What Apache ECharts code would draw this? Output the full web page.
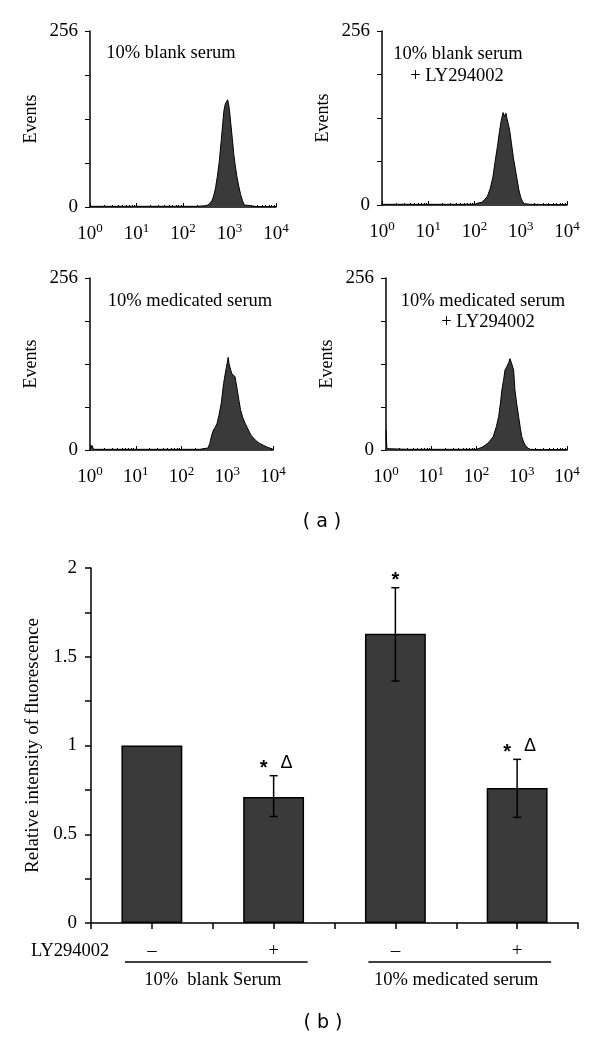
<!DOCTYPE html>
<html><head><meta charset="utf-8">
<script src="https://cdn.jsdelivr.net/npm/echarts@6/dist/echarts.min.js"></script>
<style>html,body{margin:0;padding:0;background:#fff}#c{width:600px;height:1039px}</style>
</head><body><div id="c"></div>
<script>
// ---------- data ----------
const histXExponents = ['0', '1', '2', '3', '4'];
const histYLabelValues = [0, 256];
const panelTitles = [
  ['10% blank serum'],
  ['10% blank serum', '+ LY294002'],
  ['10% medicated serum'],
  ['10% medicated serum', '+ LY294002']
];
// [log10(fluorescence), events]
const histBlank = [[0,1],[0.5,1],[1,1],[1.5,1],[2,1],[2.3,1],[2.5,2],[2.56,4],[2.62,9],[2.66,16],[2.7,28],[2.74,45],[2.78,66],[2.82,95],[2.85,118],[2.88,140],[2.91,150],[2.94,148],[2.96,156],[2.98,150],[3,140],[3.03,120],[3.06,100],[3.09,78],[3.12,62],[3.16,44],[3.2,30],[3.24,18],[3.28,9],[3.32,3],[3.36,1],[3.6,0.5],[4,0.5]];
const histBlankLY = [[0,1],[0.5,1],[1,1],[1.5,1],[2,1],[2.08,3],[2.12,5],[2.16,4],[2.22,8],[2.28,13],[2.34,24],[2.4,42],[2.45,66],[2.5,88],[2.54,108],[2.58,125],[2.62,136],[2.65,130],[2.68,135],[2.7,128],[2.73,130],[2.76,110],[2.8,90],[2.84,70],[2.88,54],[2.92,38],[2.96,22],[3,11],[3.04,5],[3.08,2],[3.2,1],[4,0.5]];
const histMed = [[0,1],[0.04,7],[0.08,1],[0.5,1],[1,1],[1.5,1],[2,1],[2.4,1],[2.58,3],[2.62,10],[2.66,22],[2.7,30],[2.74,34],[2.78,40],[2.82,52],[2.87,70],[2.92,99],[2.97,119],[3,130],[3.02,138],[3.04,128],[3.06,129],[3.08,118],[3.1,114],[3.14,112],[3.17,109],[3.22,89],[3.26,72],[3.29,60],[3.34,48],[3.39,40],[3.46,30],[3.52,22],[3.61,15],[3.7,10],[3.79,7],[3.88,4],[3.97,2],[4,1]];
const histMedLY = [[0,30],[0.02,2],[0.5,1],[1,1],[1.5,1],[2,1],[2.04,2],[2.12,4],[2.19,7],[2.28,12],[2.37,20],[2.44,35],[2.49,50],[2.53,70],[2.56,89],[2.6,105],[2.63,119],[2.67,124],[2.71,130],[2.74,136],[2.78,128],[2.82,119],[2.85,89],[2.89,68],[2.93,50],[2.97,32],[3,20],[3.04,12],[3.08,7],[3.13,3],[3.19,1],[3.5,0.5],[4,0.5]];

const barCategories = ['–', '+', '–', '+'];
const groupLabels = ['10%  blank Serum', '10% medicated serum'];
const treatmentLabel = 'LY294002';
const barValues = [1.0, 0.71, 1.63, 0.76];
const errLow = [null, 0.60, 1.363, 0.595];
const errHigh = [null, 0.83, 1.889, 0.922];
const sigStar = ['', '*', '*', '*'];
const sigDelta = ['', 'Δ', '', 'Δ'];
const barYTickLabels = ['0', '0.5', '1', '1.5', '2'];
const yNameHist = 'Events';
const yNameBar = 'Relative intensity of fluorescence';
const panelCaptions = ['( a )', '( b )'];

// ---------- layout ----------
const SERIF = '"Liberation Serif", "Times New Roman", serif';
const panelBoxes = [
  {left: 90, top: 31, width: 186, height: 176},
  {left: 382, top: 31, width: 185, height: 174},
  {left: 90, top: 278, width: 183, height: 172},
  {left: 386, top: 278, width: 181, height: 172}
];
const titlePos = [
  [[171, 53]],
  [[458, 54], [457, 76]],
  [[190, 301]],
  [[483, 301], [488, 322]]
];
const barBox = {left: 91, top: 568, width: 487, height: 355};
const histData = [histBlank, histBlankLY, histMed, histMedLY];

const minorLogTicks = [];
for (let d = 0; d < 4; d++) for (let k = 2; k <= 9; k++) minorLogTicks.push(d + Math.log10(k));

const grids = panelBoxes.map(b => Object.assign({containLabel: false}, b));
grids.push(Object.assign({containLabel: false}, barBox));

const xAxes = [], yAxes = [], series = [], graphics = [];
panelBoxes.forEach((b, i) => {
  xAxes.push({
    type: 'value', gridIndex: i, min: 0, max: 4, interval: 1,
    axisLine: {lineStyle: {color: '#000', width: 1.5}},
    axisTick: {inside: true, length: 4, lineStyle: {color: '#000'}},
    splitLine: {show: false},
    axisLabel: {
      margin: 15,
      formatter: v => '{b|10}{s|' + histXExponents[Math.round(v)] + '}',
      rich: {
        b: {fontFamily: SERIF, fontSize: 19, color: '#000'},
        s: {fontFamily: SERIF, fontSize: 13, color: '#000', padding: [0, 0, 12, 0]}
      }
    }
  });
  xAxes.push({
    type: 'value', gridIndex: i, min: 0, max: 4, position: 'bottom',
    axisLine: {show: false}, splitLine: {show: false}, axisLabel: {show: false},
    axisTick: {show: true, inside: true, length: 2, customValues: minorLogTicks, lineStyle: {color: '#000'}}
  });
  yAxes.push({
    type: 'value', gridIndex: i, min: 0, max: 256, interval: 64,
    name: yNameHist, nameLocation: 'middle', nameGap: 50,
    nameTextStyle: {fontFamily: SERIF, fontSize: 18, color: '#000'},
    axisLine: {show: true, lineStyle: {color: '#000', width: 1.5}},
    axisTick: {show: true, length: 5, lineStyle: {color: '#000'}},
    splitLine: {show: false},
    axisLabel: {
      margin: 12, fontFamily: SERIF, fontSize: 19, color: '#000',
      formatter: v => histYLabelValues.indexOf(v) >= 0 ? String(v) : ''
    }
  });
  series.push({
    type: 'line', xAxisIndex: 2 * i, yAxisIndex: i, data: histData[i],
    showSymbol: false, symbol: 'none', smooth: false,
    lineStyle: {color: '#000', width: 1},
    areaStyle: {color: '#3a3a3a', opacity: 1},
    silent: true, animation: false
  });
  panelTitles[i].forEach((t, j) => {
    graphics.push({
      id: 'pt' + i + '_' + j, type: 'text', x: titlePos[i][j][0], y: titlePos[i][j][1],
      style: {text: t, fill: '#000', font: '18.5px ' + SERIF, align: 'center', textAlign: 'center', verticalAlign: 'middle', textVerticalAlign: 'middle'}
    });
  });
});

// bar chart axes
const BG = 4;
xAxes.push({
  type: 'category', gridIndex: BG, data: barCategories, position: 'bottom',
  axisLine: {lineStyle: {color: '#000', width: 1.5}},
  axisTick: {show: true, interval: 0, length: 6, alignWithLabel: false, lineStyle: {color: '#000', width: 1.5}},
  axisLabel: {margin: 19, fontFamily: SERIF, fontSize: 19, color: '#000', interval: 0}
});
xAxes.push({
  type: 'category', gridIndex: BG, data: barCategories, position: 'bottom',
  axisLine: {show: false}, axisLabel: {show: false},
  axisTick: {show: true, interval: 0, length: 6, alignWithLabel: true, lineStyle: {color: '#000', width: 1.5}}
});
xAxes.push({
  type: 'category', gridIndex: BG, data: groupLabels, position: 'bottom',
  axisLine: {show: false}, axisTick: {show: false},
  axisLabel: {margin: 48, fontFamily: SERIF, fontSize: 18.5, color: '#000', interval: 0}
});
yAxes.push({
  type: 'value', gridIndex: BG, min: 0, max: 2, interval: 0.25,
  name: yNameBar, nameLocation: 'middle', nameGap: 46,
  nameTextStyle: {fontFamily: SERIF, fontSize: 19, color: '#000'},
  axisLine: {show: true, lineStyle: {color: '#000', width: 1.5}},
  axisTick: {show: true, length: 6, lineStyle: {color: '#000', width: 1.5}},
  splitLine: {show: false},
  axisLabel: {
    margin: 14, fontFamily: SERIF, fontSize: 19, color: '#000',
    formatter: v => {
      const k = v / 0.5;
      return Math.abs(k - Math.round(k)) < 1e-6 ? barYTickLabels[Math.round(k)] : '';
    }
  }
});
const barXIdx = 8, barYIdx = 4;
series.push({
  type: 'bar', xAxisIndex: barXIdx, yAxisIndex: barYIdx, data: barValues,
  barWidth: '50%',
  itemStyle: {color: '#3a3a3a', borderColor: '#000', borderWidth: 1.5},
  silent: true, animation: false
});
const errData = [];
barValues.forEach((v, i) => { if (errLow[i] != null) errData.push([i, errLow[i], errHigh[i]]); });
series.push({
  type: 'custom', xAxisIndex: barXIdx, yAxisIndex: barYIdx, data: errData,
  silent: true, animation: false, z: 10,
  renderItem: (params, api) => {
    const i = api.value(0);
    const lo = api.coord([i, api.value(1)]);
    const hi = api.coord([i, api.value(2)]);
    const cap = 4;
    const st = {stroke: '#000', lineWidth: 1.5};
    const ch = [
      {type: 'line', shape: {x1: hi[0], y1: hi[1], x2: lo[0], y2: lo[1]}, style: st},
      {type: 'line', shape: {x1: hi[0] - cap, y1: hi[1], x2: hi[0] + cap, y2: hi[1]}, style: st},
      {type: 'line', shape: {x1: lo[0] - cap, y1: lo[1], x2: lo[0] + cap, y2: lo[1]}, style: st}
    ];
    const hasDelta = sigDelta[i] !== '';
    if (sigStar[i]) ch.push({type: 'text', x: hi[0] + (hasDelta ? -10 : 0), y: hi[1] - 7,
      style: {text: sigStar[i], fill: '#000', font: 'bold 20px "Liberation Sans"', align: 'center', textAlign: 'center', verticalAlign: 'middle', textVerticalAlign: 'middle'}});
    if (hasDelta) ch.push({type: 'text', x: hi[0] + 13, y: hi[1] - 13,
      style: {text: sigDelta[i], fill: '#000', font: '18px "Liberation Sans"', align: 'center', textAlign: 'center', verticalAlign: 'middle', textVerticalAlign: 'middle'}});
    return {type: 'group', children: ch};
  }
});

graphics.push({id: 'ly', type: 'text', x: 31, y: 951,
  style: {text: treatmentLabel, fill: '#000', font: '18.5px ' + SERIF, align: 'left', textAlign: 'left', verticalAlign: 'middle', textVerticalAlign: 'middle'}});
graphics.push({id: 'capA', type: 'text', x: 322, y: 522,
  style: {text: panelCaptions[0], fill: '#000', font: '19px "DejaVu Sans"', align: 'center', textAlign: 'center', verticalAlign: 'middle', textVerticalAlign: 'middle'}});
graphics.push({id: 'capB', type: 'text', x: 323, y: 1023,
  style: {text: panelCaptions[1], fill: '#000', font: '19px "DejaVu Sans"', align: 'center', textAlign: 'center', verticalAlign: 'middle', textVerticalAlign: 'middle'}});

const chart = echarts.init(document.getElementById('c'), null, {renderer: 'canvas'});
chart.setOption({
  animation: false,
  backgroundColor: '#fff',
  grid: grids,
  xAxis: xAxes,
  yAxis: yAxes,
  series: series,
  graphic: graphics
});

// group underlines under the treatment signs
const zeroY = chart.convertToPixel({yAxisIndex: barYIdx}, 0);
const lines = [];
for (let g = 0; g < 2; g++) {
  const xa = chart.convertToPixel({xAxisIndex: barXIdx}, 2 * g);
  const xb = chart.convertToPixel({xAxisIndex: barXIdx}, 2 * g + 1);
  lines.push({id: 'ul' + g, type: 'line',
    shape: {x1: xa - 27, y1: zeroY + 39, x2: xb + 34, y2: zeroY + 39},
    style: {stroke: '#000', lineWidth: 1.5}});
}
chart.setOption({graphic: lines});
</script></body></html>
